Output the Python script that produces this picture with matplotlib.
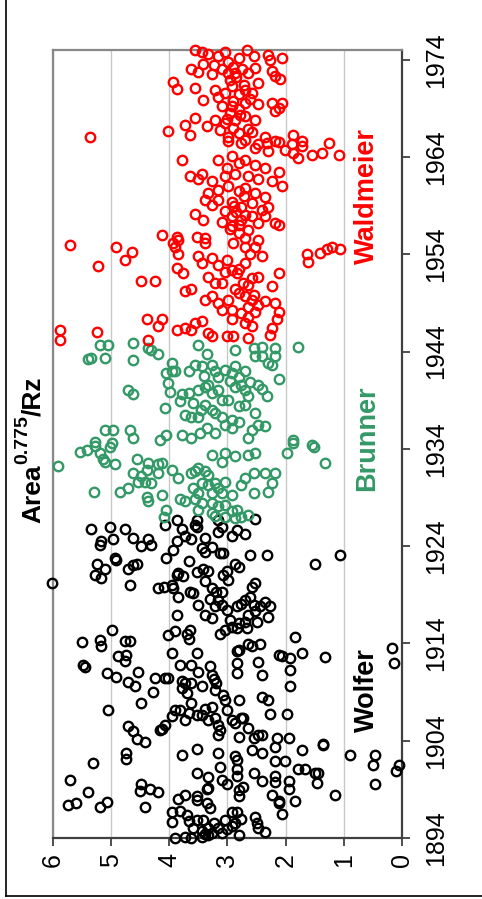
import matplotlib
matplotlib.use('Agg')
import matplotlib.pyplot as plt
from matplotlib.lines import Line2D

plt.rcParams['font.family'] = ['Liberation Sans', 'DejaVu Sans']

# (year, Area^0.775/Rz)
wolfer = [
    (1925.8, 5.34), (1926.0, 5.02), (1925.8, 4.76), (1924.5, 5.17), (1924.7, 4.97), (1924.8, 4.62),
    (1924.7, 4.36), (1926.2, 4.08), (1926.7, 3.87), (1925.8, 3.79), (1925.0, 3.73), (1926.7, 3.53),
    (1926.2, 3.56), (1926.0, 3.53), (1924.8, 3.39), (1926.7, 3.16), (1925.5, 3.16), (1926.0, 3.10),
    (1925.0, 2.93), (1925.7, 2.84), (1925.2, 2.70), (1926.8, 2.53), (1924.7, 3.62), (1924.5, 3.87),
    (1924.1, 5.20), (1924.0, 4.48), (1924.1, 4.31), (1923.6, 3.93), (1922.8, 4.05), (1922.5, 3.67),
    (1923.8, 3.44), (1923.4, 3.39), (1923.9, 3.27), (1923.3, 3.13), (1923.3, 3.07), (1923.1, 2.61),
    (1923.1, 2.32), (1922.2, 1.49), (1923.1, 1.06), (1922.2, 5.25), (1921.7, 5.11), (1922.6, 4.91),
    (1922.8, 4.94), (1921.7, 4.71), (1922.1, 4.62), (1922.2, 4.56), (1921.0, 5.28), (1920.7, 5.17),
    (1920.0, 4.68), (1920.2, 6.02), (1919.7, 4.19), (1919.8, 4.10), (1920.0, 3.96), (1919.7, 3.93),
    (1921.0, 3.87), (1921.2, 3.85), (1920.9, 3.76), (1918.8, 3.85), (1919.3, 3.65), (1919.2, 3.59),
    (1921.3, 3.53), (1921.6, 3.42), (1921.4, 3.33), (1920.4, 3.39), (1919.7, 3.27), (1918.6, 3.30),
    (1919.3, 3.19), (1919.3, 3.10), (1921.0, 3.07), (1921.4, 3.01), (1920.5, 2.99), (1922.2, 2.87),
    (1921.9, 2.81), (1918.5, 3.16), (1917.8, 3.21), (1918.0, 3.50), (1916.9, 3.87), (1916.9, 3.39),
    (1916.6, 3.27), (1918.0, 3.10), (1917.4, 3.01), (1916.4, 2.96), (1917.8, 2.84), (1918.1, 2.76),
    (1918.5, 2.70), (1918.8, 2.61), (1919.8, 2.58), (1920.2, 2.53), (1918.0, 2.55), (1917.8, 2.44),
    (1918.3, 2.35), (1917.8, 2.27), (1916.7, 2.30), (1917.3, 2.53), (1916.9, 2.64), (1916.2, 2.70),
    (1916.1, 2.81), (1915.7, 2.93), (1915.4, 3.04), (1915.0, 3.13), (1915.6, 2.84), (1915.6, 2.67),
    (1916.2, 2.50), (1915.4, 4.99), (1914.9, 4.02), (1915.3, 3.90), (1915.0, 3.70), (1914.5, 3.67),
    (1915.4, 3.65), (1914.7, 1.84), (1914.1, 5.50), (1914.4, 5.20), (1914.3, 4.76), (1914.2, 4.68),
    (1913.7, 5.17), (1912.7, 4.88), (1912.8, 4.74), (1912.2, 4.76), (1911.8, 5.48), (1911.6, 5.45),
    (1911.0, 5.08), (1910.6, 4.91), (1910.0, 4.71), (1909.6, 4.59), (1911.1, 4.54), (1909.0, 4.28),
    (1907.9, 4.48), (1907.2, 5.05), (1910.4, 4.25), (1910.4, 4.08), (1910.4, 4.02), (1913.0, 3.96),
    (1911.8, 3.82), (1910.1, 3.79), (1909.4, 3.79), (1909.9, 3.73), (1908.9, 3.70), (1909.9, 3.62),
    (1911.8, 3.62), (1913.0, 3.53), (1911.1, 3.50), (1909.6, 3.44), (1907.9, 3.62), (1906.8, 3.67),
    (1906.1, 3.73), (1907.2, 3.82), (1907.2, 3.90), (1906.5, 3.96), (1905.6, 4.08), (1905.1, 4.16),
    (1905.2, 4.13), (1905.5, 4.71), (1905.0, 4.62), (1904.2, 4.56), (1903.9, 4.42), (1911.7, 3.30),
    (1910.8, 3.27), (1910.3, 3.24), (1909.9, 3.19), (1909.2, 3.21), (1907.5, 3.27), (1907.3, 3.39),
    (1906.6, 3.44), (1906.6, 3.53), (1906.1, 3.33), (1906.3, 3.21), (1905.6, 3.16), (1905.1, 3.13),
    (1904.6, 3.16), (1908.2, 3.04), (1908.7, 3.07), (1907.2, 3.01), (1906.1, 2.93), (1905.8, 2.87),
    (1908.2, 2.81), (1904.4, 2.81), (1906.3, 2.76), (1906.3, 2.73), (1905.3, 2.64), (1904.3, 2.55),
    (1904.6, 2.47), (1904.6, 2.41), (1912.0, 2.84), (1911.0, 2.84), (1913.2, 2.84), (1913.3, 2.81),
    (1913.9, 2.64), (1913.7, 2.58), (1913.9, 2.44), (1912.1, 2.47), (1910.8, 2.41), (1908.5, 2.41),
    (1908.2, 2.30), (1906.7, 2.27), (1904.3, 2.15), (1906.7, 1.98), (1904.3, 1.95), (1912.8, 2.12),
    (1912.7, 2.07), (1912.5, 1.92), (1911.3, 1.92), (1909.6, 1.92), (1913.0, 1.72), (1912.6, 1.33),
    (1903.7, 1.35), (1913.5, 0.17), (1912.0, 0.13),
    (1902.7, 4.74), (1902.1, 4.74), (1901.7, 5.31), (1900.0, 5.71), (1898.7, 5.40), (1897.4, 5.74),
    (1897.6, 5.60), (1897.2, 5.20), (1897.7, 5.08), (1899.5, 4.48), (1898.8, 4.51), (1899.0, 4.33),
    (1898.7, 4.19), (1897.2, 4.42), (1902.5, 3.79), (1903.1, 3.53), (1900.7, 3.53), (1900.3, 3.33),
    (1902.7, 3.16), (1901.3, 3.13), (1899.1, 3.33), (1899.0, 3.36), (1900.0, 3.10), (1899.5, 3.01),
    (1902.4, 2.87), (1902.0, 2.84), (1901.1, 2.84), (1900.4, 2.84), (1898.9, 2.81), (1899.2, 2.73),
    (1898.3, 2.81), (1898.0, 3.85), (1898.4, 3.73), (1898.3, 3.53), (1897.9, 3.53), (1897.6, 3.36),
    (1897.1, 3.30), (1896.7, 3.96), (1895.6, 3.96), (1896.8, 3.82), (1896.4, 3.70), (1895.7, 3.67),
    (1895.9, 3.53), (1895.0, 3.59), (1895.9, 3.42), (1894.7, 3.44), (1895.0, 3.33), (1894.3, 3.33),
    (1895.5, 3.24), (1895.0, 3.16), (1895.9, 3.04), (1894.9, 3.01), (1896.7, 2.93), (1896.7, 2.84),
    (1896.0, 2.76), (1895.5, 2.87), (1895.2, 2.93), (1894.3, 2.81), (1894.0, 3.90), (1894.1, 3.73),
    (1894.0, 3.62), (1894.1, 3.44), (1894.4, 3.39), (1894.5, 3.27), (1894.5, 3.10), (1896.2, 2.53),
    (1895.5, 2.50), (1895.0, 2.47), (1894.6, 2.35), (1903.0, 2.58), (1902.7, 2.41), (1903.4, 2.18),
    (1901.9, 2.18), (1900.4, 2.18), (1899.8, 2.18), (1901.9, 2.01), (1899.9, 1.95), (1899.0, 1.95),
    (1897.8, 2.12), (1897.6, 2.12), (1896.5, 2.06), (1897.8, 1.84), (1901.1, 1.78), (1901.1, 1.66),
    (1900.7, 1.49), (1900.7, 1.44), (1899.7, 1.46), (1903.0, 1.72), (1903.6, 1.35), (1898.4, 1.15),
    (1902.5, 0.89), (1902.5, 0.47), (1901.5, 0.49), (1899.5, 0.46), (1900.9, 0.11), (1901.5, 0.06),
    (1900.7, 2.55), (1899.9, 2.41), (1898.4, 2.24),
]

brunner = [
    (1944.7, 5.20), (1944.7, 5.05), (1944.9, 4.62), (1944.2, 4.31), (1943.8, 4.19), (1944.4, 4.36),
    (1944.7, 3.50), (1943.8, 3.36), (1944.2, 2.87), (1944.4, 2.55), (1944.5, 2.41), (1944.4, 2.18),
    (1944.5, 1.78), (1943.2, 5.40), (1943.3, 5.34), (1943.3, 5.11), (1943.1, 4.62), (1942.8, 3.96),
    (1941.8, 4.05), (1942.0, 3.96), (1942.0, 3.90), (1940.8, 4.02), (1939.8, 3.99), (1942.0, 3.67),
    (1942.6, 3.56), (1942.5, 3.44), (1942.6, 3.27), (1942.0, 3.21), (1941.4, 3.16), (1942.1, 3.04),
    (1941.8, 2.93), (1942.5, 2.87), (1941.4, 2.81), (1942.0, 2.70), (1943.5, 2.53), (1943.5, 2.41),
    (1942.8, 2.30), (1942.6, 2.24), (1943.5, 2.18), (1941.2, 2.12), (1940.0, 4.71), (1939.6, 4.62),
    (1939.6, 3.79), (1938.9, 3.82), (1939.7, 3.67), (1938.7, 3.59), (1940.1, 3.50), (1940.4, 3.39),
    (1940.6, 3.33), (1939.7, 3.27), (1940.1, 3.16), (1939.0, 2.99), (1940.4, 2.87), (1940.6, 2.76),
    (1940.1, 2.70), (1939.4, 2.64), (1940.6, 2.47), (1940.2, 2.41), (1939.4, 2.32), (1938.2, 4.08),
    (1937.5, 3.73), (1937.3, 3.62), (1937.3, 3.50), (1938.5, 3.39), (1938.0, 3.27), (1937.7, 3.21),
    (1937.3, 3.10), (1937.0, 2.93), (1938.4, 2.81), (1938.5, 2.70), (1937.7, 2.53), (1936.5, 2.47),
    (1936.4, 2.35), (1935.9, 5.11), (1935.9, 4.97), (1935.9, 4.68), (1935.1, 4.62), (1934.9, 4.16),
    (1935.4, 4.05), (1935.4, 3.79), (1935.1, 3.62), (1935.6, 3.47), (1936.1, 3.36), (1935.6, 3.21),
    (1936.5, 3.04), (1936.1, 2.93), (1935.1, 2.64), (1935.9, 2.58), (1934.9, 1.87), (1934.4, 1.55),
    (1934.7, 5.28), (1934.6, 4.99), (1941.0, 2.95), (1939.0, 3.10), (1941.5, 3.40), (1938.0, 3.45),
    (1936.8, 2.80), (1940.9, 2.62),
    (1932.2, 5.91), (1933.7, 5.54), (1933.9, 5.42), (1934.3, 5.28), (1933.6, 5.20), (1933.0, 5.14),
    (1932.7, 5.11), (1934.2, 5.02), (1932.4, 4.94), (1933.0, 4.56), (1932.5, 4.36), (1932.4, 4.19),
    (1932.5, 4.13), (1931.8, 4.39), (1931.5, 4.62), (1931.2, 4.48), (1930.6, 4.42), (1930.5, 4.31),
    (1930.6, 4.54), (1930.0, 4.71), (1929.6, 4.85), (1929.6, 5.29), (1929.3, 4.13), (1929.1, 4.39),
    (1928.6, 4.36), (1931.5, 4.19), (1931.8, 3.96), (1931.0, 3.85), (1928.8, 3.82), (1931.5, 3.62),
    (1931.7, 3.56), (1932.0, 3.50), (1931.7, 3.39), (1931.3, 3.33), (1930.5, 3.44), (1930.0, 3.59),
    (1929.5, 3.50), (1930.3, 3.33), (1930.5, 3.21), (1930.0, 3.16), (1930.6, 3.04), (1929.5, 3.27),
    (1929.5, 3.10), (1929.3, 2.93), (1928.6, 3.73), (1928.8, 3.56), (1928.4, 3.44), (1928.4, 3.27),
    (1928.1, 3.16), (1928.2, 3.04), (1927.6, 2.93), (1927.7, 2.84), (1927.7, 3.50), (1927.7, 4.05),
    (1927.0, 4.10), (1927.4, 3.27), (1927.1, 3.21), (1927.0, 3.04), (1926.9, 2.87), (1927.0, 2.76),
    (1927.2, 2.64), (1931.0, 2.70), (1930.3, 2.76), (1931.5, 2.55), (1931.5, 2.35), (1931.5, 2.18),
    (1930.5, 2.24), (1929.6, 2.30), (1929.5, 2.55), (1933.6, 3.04), (1932.7, 3.10), (1933.4, 3.27),
    (1933.3, 2.87), (1933.4, 2.64), (1933.6, 2.53), (1933.6, 1.98), (1934.6, 1.87), (1934.2, 1.52),
    (1932.5, 1.32),
]

waldmeier = [
    (1975.0, 3.56), (1974.8, 3.44), (1974.6, 3.33), (1974.8, 3.04), (1975.0, 2.67), (1974.4, 2.55),
    (1974.5, 2.30), (1974.0, 2.27), (1974.2, 2.06), (1974.4, 3.16), (1974.2, 2.81), (1973.8, 2.99),
    (1973.0, 3.62), (1972.7, 3.50), (1973.6, 3.42), (1973.5, 3.24), (1972.5, 3.27), (1973.0, 3.10),
    (1972.6, 2.99), (1972.6, 2.87), (1972.6, 2.64), (1973.2, 2.53), (1971.6, 2.47), (1972.8, 2.24),
    (1972.3, 2.18), (1972.0, 2.10), (1971.7, 3.93), (1971.0, 3.87), (1971.1, 3.56), (1969.9, 3.42),
    (1970.9, 3.21), (1970.2, 3.16), (1970.6, 3.04), (1971.3, 2.93), (1970.9, 2.70), (1970.6, 2.58),
    (1969.6, 2.24), (1968.7, 2.18), (1969.6, 2.06), (1969.0, 2.12), (1969.2, 3.10), (1969.2, 2.93),
    (1968.9, 2.81), (1969.6, 2.70), (1969.4, 2.47), (1968.0, 3.56), (1967.3, 3.73), (1967.2, 3.36),
    (1967.8, 3.21), (1966.8, 3.13), (1967.5, 3.04), (1967.8, 2.87), (1968.2, 2.70), (1967.8, 2.53),
    (1966.7, 4.02), (1966.3, 3.65), (1966.1, 2.99), (1966.5, 2.81), (1965.8, 2.70), (1966.6, 2.58),
    (1966.1, 2.35), (1965.6, 2.18), (1966.3, 1.87), (1965.6, 1.72), (1966.1, 5.36),
    (1973.0, 2.75), (1972.2, 2.85), (1971.4, 2.72), (1970.5, 2.80), (1969.8, 2.90), (1968.5, 2.95),
    (1968.3, 2.78), (1967.9, 3.00), (1967.0, 2.90), (1966.9, 2.65), (1971.9, 2.95), (1970.0, 2.62),
    (1973.3, 2.90),
    (1965.6, 2.99), (1965.4, 2.76), (1965.3, 2.47), (1965.4, 2.32), (1965.5, 2.12), (1965.3, 1.89),
    (1965.1, 1.72), (1964.4, 1.87), (1963.9, 1.78), (1964.2, 1.55), (1964.4, 1.38), (1964.2, 1.09),
    (1965.4, 1.26), (1964.7, 2.01), (1964.6, 2.30), (1964.9, 2.53), (1963.7, 3.79), (1963.7, 3.16),
    (1964.1, 2.93), (1963.4, 2.81), (1962.9, 3.01), (1963.7, 2.70), (1963.2, 2.53), (1962.9, 2.35),
    (1962.5, 2.12), (1962.0, 3.65), (1962.3, 3.44), (1961.7, 3.50), (1961.5, 3.27), (1962.0, 3.04),
    (1962.3, 2.87), (1962.0, 2.64), (1961.7, 2.47), (1961.5, 2.24), (1961.0, 2.07), (1960.3, 3.33),
    (1960.6, 3.16), (1961.0, 2.99), (1960.5, 2.81), (1960.8, 2.70), (1960.3, 2.53), (1959.9, 2.35),
    (1959.6, 3.39), (1959.1, 3.27), (1959.6, 3.16), (1959.4, 2.93), (1958.9, 2.76), (1959.3, 2.58),
    (1958.6, 2.41), (1958.9, 2.30), (1958.1, 3.56), (1957.5, 3.42), (1957.9, 2.93), (1957.5, 2.76),
    (1957.9, 2.58), (1957.2, 2.47), (1957.9, 2.35), (1957.2, 2.18), (1957.0, 2.12), (1956.0, 4.13),
    (1955.8, 3.87), (1955.5, 3.85), (1955.8, 3.53), (1955.7, 3.39), (1956.9, 2.93), (1956.2, 2.81),
    (1956.5, 2.64), (1955.5, 2.47), (1955.7, 2.70), (1958.3, 2.85), (1958.0, 2.70), (1959.0, 2.88),
    (1957.0, 2.80), (1956.6, 2.95), (1960.0, 2.72), (1958.5, 3.05), (1957.3, 3.10),
    (1955.0, 5.71), (1954.8, 4.91), (1954.2, 4.65), (1953.4, 4.76), (1952.8, 5.22), (1951.3, 4.48),
    (1951.3, 4.25), (1955.2, 3.93), (1954.0, 3.85), (1952.6, 3.87), (1952.1, 3.76), (1953.8, 3.50),
    (1953.1, 3.44), (1953.6, 3.27), (1954.8, 3.90), (1955.2, 3.39), (1953.4, 3.01), (1955.2, 2.90),
    (1954.8, 2.70), (1954.8, 2.53), (1954.0, 2.61), (1953.8, 2.41), (1953.1, 2.70), (1952.9, 3.16),
    (1952.2, 3.04), (1952.4, 2.93), (1952.1, 2.84), (1951.7, 3.33), (1951.0, 3.21), (1951.0, 3.10),
    (1950.4, 2.87), (1951.0, 2.73), (1951.6, 2.58), (1951.7, 2.47), (1950.7, 2.24), (1952.1, 2.12),
    (1950.2, 3.73), (1950.4, 3.62), (1949.3, 3.39), (1949.7, 3.27), (1949.0, 3.16), (1949.3, 2.99),
    (1949.7, 2.70), (1949.3, 2.58), (1948.8, 2.47), (1949.2, 2.35), (1949.0, 2.18), (1948.1, 2.12),
    (1947.4, 2.15), (1948.3, 2.93), (1948.0, 2.76), (1947.6, 2.64), (1948.1, 2.53), (1948.3, 3.10),
    (1947.3, 2.93), (1946.9, 2.70), (1946.6, 2.58), (1947.3, 4.39), (1947.3, 4.13), (1946.6, 4.19),
    (1946.2, 3.87), (1946.4, 3.73), (1946.9, 3.56), (1947.1, 3.44), (1946.2, 3.62), (1945.9, 3.33),
    (1945.6, 3.27), (1945.6, 3.01), (1945.6, 2.90), (1945.4, 2.64), (1946.4, 2.24), (1945.7, 2.27),
    (1946.2, 5.88), (1945.2, 5.88), (1946.0, 5.25), (1945.2, 4.36), (1954.0, 1.64), (1953.2, 1.61),
    (1954.1, 1.41), (1954.5, 1.29), (1954.7, 1.21), (1954.5, 1.06), (1950.0, 2.80), (1949.8, 2.55),
    (1948.6, 2.65), (1950.8, 2.65), (1952.5, 2.80),
]

series = [
    (wolfer, 'black', 'Wolfer', 1909.2),
    (brunner, '#339966', 'Brunner', 1935.1),
    (waldmeier, '#ff0000', 'Waldmeier', 1960.0),
]
year_ticks = [1894, 1904, 1914, 1924, 1934, 1944, 1954, 1964, 1974]
value_ticks = [0, 1, 2, 3, 4, 5, 6]
title_parts = ['Area', '0.775', '/Rz']

W, H = 482, 899
fig = plt.figure(figsize=(W / 100, H / 100), dpi=100)
ax = fig.add_axes([53 / W, 61 / H, 349 / W, 788 / H])

# chart is drawn turned on its side: values run right to left, years bottom to top
for pts, col, name, ymid in series:
    yrs = [p[0] for p in pts]
    vals = [p[1] for p in pts]
    ax.plot(vals, yrs, 'o', ms=6.8, mfc='none', mec=col, mew=1.7, clip_on=False, zorder=3)
    ax.text(0.60, ymid, name, color=col, rotation=90, ha='center', va='center',
            fontsize=19.5, fontweight='bold')

ax.set_xlim(6, 0)
ax.set_ylim(1894, 1975)
ax.set_xticks(value_ticks)
ax.set_yticks(year_ticks)
ax.yaxis.tick_right()
ax.tick_params(axis='y', direction='out', length=6, width=1.3, color='#404040', pad=10,
               labelsize=18, labelrotation=90)
ax.tick_params(axis='x', direction='out', length=6, width=1.3, color='#404040', pad=5,
               labelsize=18, labelrotation=90)
for lab in ax.get_yticklabels():
    lab.set_va('center')

ax.grid(axis='x', color='#c8c8c8', lw=1)
ax.set_axisbelow(True)
for side in ['left', 'top']:
    ax.spines[side].set_color('#888888')
    ax.spines[side].set_linewidth(1.6)
for side in ['right', 'bottom']:
    ax.spines[side].set_color('#404040')
    ax.spines[side].set_linewidth(1.6)

# title written upward in three pieces so the exponent sits raised
renderer = fig.canvas.get_renderer()
y_px = 523
for txt, size, base_x in zip(title_parts, [19, 14, 19], [40, 27, 40]):
    t = fig.text(base_x / W, 1 - y_px / H, txt, rotation=90, rotation_mode='anchor',
                 ha='left', va='baseline', fontsize=size, fontweight='bold')
    y_px -= t.get_window_extent(renderer).height

# outer frame, only left and bottom edges show
fig.add_artist(Line2D([6 / W, 6 / W], [3.5 / H, 1], color='black', lw=1.2))
fig.add_artist(Line2D([6 / W, 1], [3.5 / H, 3.5 / H], color='black', lw=1.2))

fig.savefig('out.png', dpi=100)
